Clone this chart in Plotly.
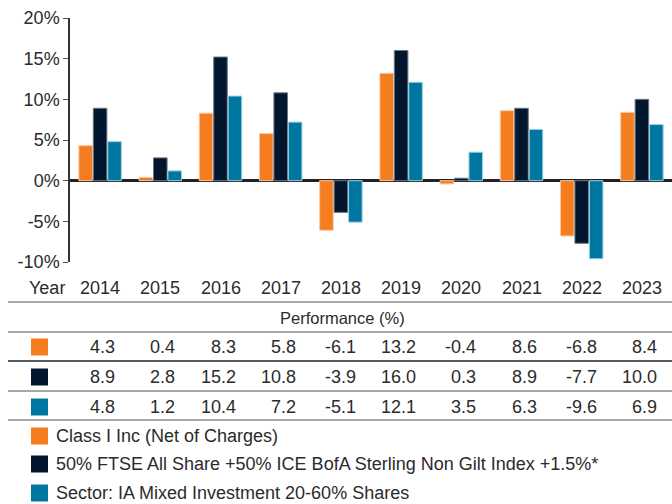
import plotly.graph_objects as go

years = ["2014", "2015", "2016", "2017", "2018", "2019", "2020", "2021", "2022", "2023"]
fund = [4.3, 0.4, 8.3, 5.8, -6.1, 13.2, -0.4, 8.6, -6.8, 8.4]
benchmark = [8.9, 2.8, 15.2, 10.8, -3.9, 16.0, 0.3, 8.9, -7.7, 10.0]
sector = [4.8, 1.2, 10.4, 7.2, -5.1, 12.1, 3.5, 6.3, -9.6, 6.9]
series_names = [
    "Class I Inc (Net of Charges)",
    "50% FTSE All Share +50% ICE BofA Sterling Non Gilt Index +1.5%*",
    "Sector: IA Mixed Investment 20-60% Shares",
]
colors = ["#F47D20", "#02172D", "#0077A0"]
outline = ["#F9C9A4", "#6B7785", "#9FCFE0"]
yticks = [-10, -5, 0, 5, 10, 15, 20]
table_title = "Performance (%)"
row_label = "Year"

W, H = 672, 504
FONT = "Liberation Sans, Arial, Helvetica, sans-serif"
TXT = "#2b2b2b"
FS = 18


def py(px):
    return 1 - px / H


def pxx(px):
    return px / W


fig = go.Figure()
for name, vals, c, oc in zip(series_names, [fund, benchmark, sector], colors, outline):
    fig.add_trace(go.Bar(x=years, y=vals, name=name, marker=dict(color=c, line=dict(color=oc, width=1)),
                         showlegend=False, hoverinfo="skip"))

fig.update_layout(
    width=W, height=H,
    margin=dict(l=0, r=0, t=0, b=0, pad=0),
    paper_bgcolor="white", plot_bgcolor="white",
    barmode="group", bargap=0.28, bargroupgap=0.06,
    font=dict(family=FONT, size=FS, color=TXT),
    xaxis=dict(type="category", categoryorder="array", categoryarray=years, automargin=False,
               range=[-0.5, len(years) - 0.5], domain=[pxx(70), 1],
               showticklabels=False, showgrid=False, zeroline=False, showline=False, ticks=""),
    yaxis=dict(domain=[py(262), py(18)], range=[-10, 20], tickvals=yticks, automargin=False,
               ticktext=[f"{v}%" for v in yticks], showgrid=False,
               zeroline=True, zerolinecolor="#222222", zerolinewidth=2.5,
               showline=True, linecolor="#333333", linewidth=1.5,
               ticks="outside", ticklen=5, tickcolor="#555555", tickwidth=1,
               tickfont=dict(size=FS, color=TXT)),
)

# Table: header row with years
yr_y = py(288)
fig.add_annotation(x=pxx(27), y=yr_y, xref="paper", yref="paper", text=row_label, showarrow=False,
                   xanchor="left", yanchor="middle", font=dict(size=FS, color=TXT))
for i, yr in enumerate(years):
    fig.add_annotation(x=i, y=yr_y, xref="x", yref="paper", text=yr, showarrow=False,
                       xanchor="center", yanchor="middle", font=dict(size=FS, color=TXT))

fig.add_annotation(x=pxx(342), y=py(318), xref="paper", yref="paper", text=table_title,
                   showarrow=False, xanchor="center", yanchor="middle", font=dict(size=16.5, color=TXT))

row_ys = [347, 377, 407]
for vals, c, ry in zip([fund, benchmark, sector], colors, row_ys):
    fig.add_shape(type="rect", xref="paper", yref="paper", x0=pxx(31), x1=pxx(48),
                  y0=py(ry - 8.5), y1=py(ry + 8.5), fillcolor=c, line=dict(width=0))
    for i, v in enumerate(vals):
        fig.add_annotation(x=i, y=py(ry), xref="x", yref="paper", text=f"{v:.1f}", showarrow=False,
                           xanchor="right", xshift=17, yanchor="middle", font=dict(size=FS, color=TXT))

line_specs = [(302, "#8a8a8a"), (332, "#8a8a8a"), (361, "#222222"), (391, "#8a8a8a"), (420, "#8a8a8a")]
for ly, lc in line_specs:
    fig.add_shape(type="line", xref="paper", yref="paper", x0=pxx(8), x1=1, y0=py(ly), y1=py(ly),
                  line=dict(color=lc, width=1.5))

# Legend
leg_ys = [436, 464, 493]
for name, c, ly in zip(series_names, colors, leg_ys):
    fig.add_shape(type="rect", xref="paper", yref="paper", x0=pxx(31), x1=pxx(48),
                  y0=py(ly - 8.5), y1=py(ly + 8.5), fillcolor=c, line=dict(width=0))
    fig.add_annotation(x=pxx(54), y=py(ly), xref="paper", yref="paper", text=name, showarrow=False,
                       xanchor="left", yanchor="middle", font=dict(size=FS, color=TXT))

fig.write_html("out.html", config={"displayModeBar": False, "responsive": False},
               post_script="document.body.style.margin='0';document.body.style.overflow='hidden';")
